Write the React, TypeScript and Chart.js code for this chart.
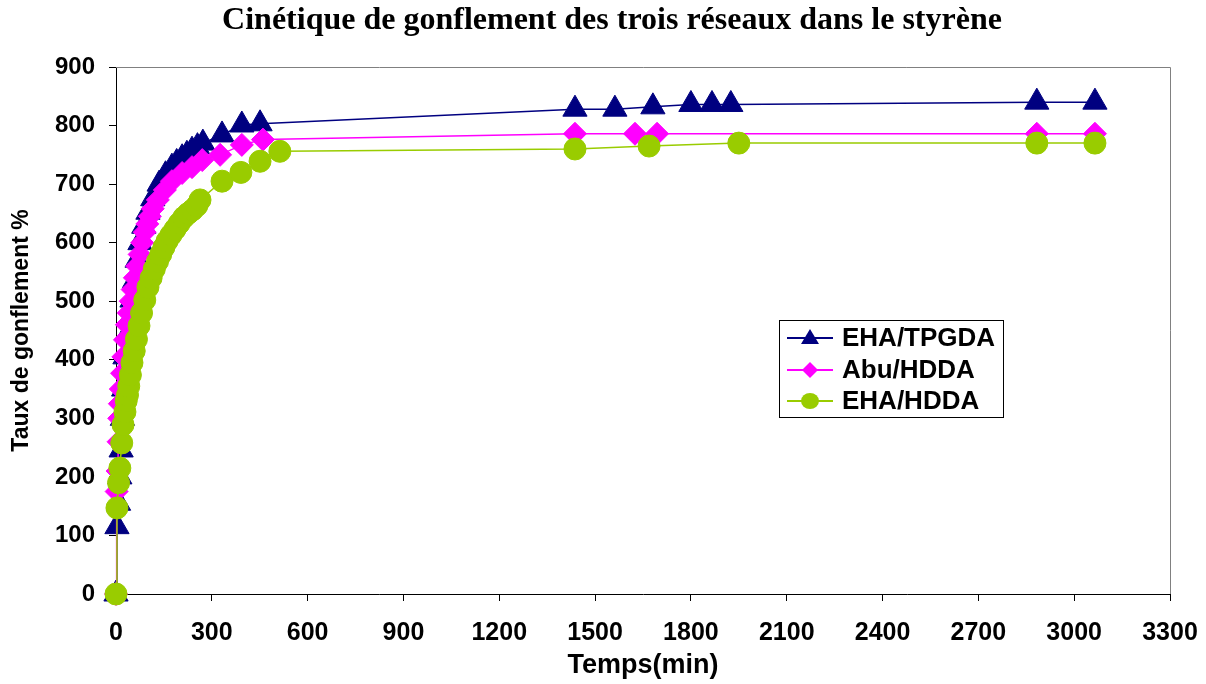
import React, { useEffect, useRef } from "react";
import { Chart, registerables } from "chart.js";

Chart.register(...registerables);

const chartTitle = "Cinétique de gonflement des trois réseaux dans le styrène";
const xAxisTitle = "Temps(min)";
const yAxisTitle = "Taux de gonflement %";

const seriesNames = ["EHA/TPGDA", "Abu/HDDA", "EHA/HDDA"];

const ehaTpgdaTime = [0, 3, 8, 12, 16, 20, 24, 28, 38, 50, 58, 66, 75, 87, 100, 115, 135, 155, 175, 190, 207, 222, 238, 255, 272, 332, 394, 451, 1437, 1562, 1681, 1800, 1866, 1925, 2883, 3065];
const ehaTpgdaSwell = [0, 115, 155, 200, 246, 300, 350, 405, 446, 502, 535, 570, 600, 628, 652, 675, 700, 716, 729, 737, 745, 751, 758, 764, 770, 784, 801, 803, 828, 828, 832, 836, 836, 836, 840, 840];

const abuHddaTime = [0, 2, 5, 8, 10, 12, 15, 19, 23, 28, 34, 40, 46, 52, 59, 66, 74, 82, 90, 98, 106, 115, 131, 153, 175, 207, 238, 270, 326, 394, 460, 1437, 1625, 1694, 2883, 3065];
const abuHddaSwell = [0, 175, 210, 260, 300, 325, 350, 377, 405, 434, 460, 480, 500, 520, 540, 560, 580, 600, 618, 632, 645, 658, 673, 690, 705, 719, 729, 741, 750, 767, 776, 786, 786, 786, 786, 786];

const ehaHddaTime = [0, 3, 8, 12, 18, 22, 28, 32, 36, 40, 45, 50, 57, 64, 72, 80, 90, 100, 110, 120, 130, 140, 150, 160, 172, 185, 198, 212, 226, 240, 253, 263, 332, 391, 451, 513, 1437, 1669, 1950, 2883, 3065];
const ehaHddaSwell = [0, 147, 190, 215, 258, 289, 311, 330, 340, 355, 374, 395, 415, 435, 458, 480, 502, 524, 540, 555, 568, 580, 592, 603, 613, 623, 633, 643, 650, 656, 663, 673, 705, 720, 739, 756, 760, 765, 770, 770, 770];

const seriesColors = ["#000080", "#FF00FF", "#99CC00"];

const toPoints = (xs: number[], ys: number[]) => xs.map((x, i) => ({ x, y: ys[i] }));

const frameAndLegend = {
  id: "frameAndLegend",
  beforeDatasetsDraw(chart: any) {
    const { ctx, chartArea } = chart;
    ctx.save();
    ctx.strokeStyle = "#808080";
    ctx.lineWidth = 1;
    ctx.beginPath();
    ctx.moveTo(chartArea.left, chartArea.top + 0.5);
    ctx.lineTo(chartArea.right + 0.5, chartArea.top + 0.5);
    ctx.lineTo(chartArea.right + 0.5, chartArea.bottom);
    ctx.stroke();
    ctx.restore();
  },
  afterDraw(chart: any) {
    const { ctx } = chart;
    ctx.save();
    // title
    ctx.fillStyle = "#000000";
    ctx.font = "bold 32px 'Liberation Serif', 'Times New Roman', serif";
    ctx.textAlign = "center";
    ctx.textBaseline = "middle";
    ctx.fillText(chartTitle, 612, 21);
    // legend
    const bx = 779.5, by = 320.5, bw = 224, bh = 97;
    ctx.fillStyle = "#ffffff";
    ctx.fillRect(bx, by, bw, bh);
    ctx.strokeStyle = "#000000";
    ctx.lineWidth = 1;
    ctx.strokeRect(bx, by, bw, bh);
    const rows = [338, 370, 401];
    chart.data.datasets.forEach((ds: any, i: number) => {
      const y = rows[i];
      const c = seriesColors[i];
      ctx.strokeStyle = c;
      ctx.lineWidth = 2;
      ctx.beginPath();
      ctx.moveTo(787, y);
      ctx.lineTo(833, y);
      ctx.stroke();
      ctx.fillStyle = c;
      ctx.beginPath();
      const mx = 810;
      if (i === 0) {
        ctx.moveTo(mx, y - 9);
        ctx.lineTo(mx + 9, y + 6);
        ctx.lineTo(mx - 9, y + 6);
        ctx.closePath();
      } else if (i === 1) {
        ctx.moveTo(mx - 8, y);
        ctx.lineTo(mx, y - 8);
        ctx.lineTo(mx + 8, y);
        ctx.lineTo(mx, y + 8);
        ctx.closePath();
      } else {
        ctx.ellipse(mx, y, 9, 8, 0, 0, Math.PI * 2);
      }
      ctx.fill();
      ctx.fillStyle = "#000000";
      ctx.font = "bold 26px 'Liberation Sans', Arial, sans-serif";
      ctx.textBaseline = "middle";
      ctx.textAlign = "left";
      ctx.fillText(ds.label, 842, y + 1);
    });
    ctx.restore();
  },
};

export default function App() {
  const ref = useRef<HTMLCanvasElement>(null);
  useEffect(() => {
    document.body.style.margin = "0";
    const canvas = ref.current as HTMLCanvasElement;
    const sans = "'Liberation Sans', Arial, sans-serif";
    const commonDs = {
      showLine: true,
      borderWidth: 1.5,
      pointBorderWidth: 1,
      tension: 0,
      clip: false as any,
    };
    const chart = new Chart(canvas, {
      type: "scatter",
      data: {
        datasets: [
          {
            ...commonDs,
            label: seriesNames[0],
            data: toPoints(ehaTpgdaTime, ehaTpgdaSwell),
            borderColor: seriesColors[0],
            backgroundColor: seriesColors[0],
            pointStyle: "triangle",
            pointRadius: 14,
            order: 3,
          },
          {
            ...commonDs,
            label: seriesNames[1],
            data: toPoints(abuHddaTime, abuHddaSwell),
            borderColor: seriesColors[1],
            backgroundColor: seriesColors[1],
            pointStyle: "rectRot",
            pointRadius: 11.5,
            order: 2,
          },
          {
            ...commonDs,
            label: seriesNames[2],
            data: toPoints(ehaHddaTime, ehaHddaSwell),
            borderColor: seriesColors[2],
            backgroundColor: seriesColors[2],
            pointStyle: "circle",
            pointRadius: 11,
            order: 1,
          },
        ],
      },
      options: {
        responsive: false,
        animation: false,
        events: [],
        layout: { padding: { left: 0, right: 36, top: 67, bottom: 0 } },
        plugins: {
          legend: { display: false },
          tooltip: { enabled: false },
          title: { display: false },
        },
        scales: {
          x: {
            type: "linear",
            min: 0,
            max: 3300,
            afterFit: (s: any) => {
              s.height = 90;
              s.paddingLeft = 0;
              s.paddingRight = 0;
            },
            ticks: {
              stepSize: 300,
              color: "#000000",
              font: { family: sans, size: 25, weight: "bold" },
              padding: 17,
              maxRotation: 0,
              callback: (v: any) => String(v),
            },
            grid: { display: true, drawOnChartArea: false, drawTicks: true, tickLength: 7, color: "#000000" },
            border: { display: true, color: "#000000", width: 1 },
            title: {
              display: true,
              text: xAxisTitle,
              color: "#000000",
              font: { family: sans, size: 27, weight: "bold", lineHeight: 1.2 },
              padding: { top: 0, bottom: 2 },
            },
          },
          y: {
            type: "linear",
            min: 0,
            max: 900,
            afterFit: (s: any) => {
              s.width = 116;
            },
            ticks: {
              stepSize: 100,
              color: "#000000",
              font: { family: sans, size: 24, weight: "bold" },
              padding: 14,
            },
            grid: { display: true, drawOnChartArea: false, drawTicks: true, tickLength: 7, color: "#000000" },
            border: { display: true, color: "#000000", width: 1 },
            title: {
              display: true,
              text: yAxisTitle,
              color: "#000000",
              font: { family: sans, size: 23, weight: "bold", lineHeight: 1.2 },
              padding: { top: 8, bottom: 0 },
            },
          },
        },
      },
      plugins: [frameAndLegend],
    });
    return () => chart.destroy();
  }, []);
  return (
    <div style={{ width: 1206, height: 684 }}>
      <canvas ref={ref} width={1206} height={684} style={{ display: "block" }} />
    </div>
  );
}
